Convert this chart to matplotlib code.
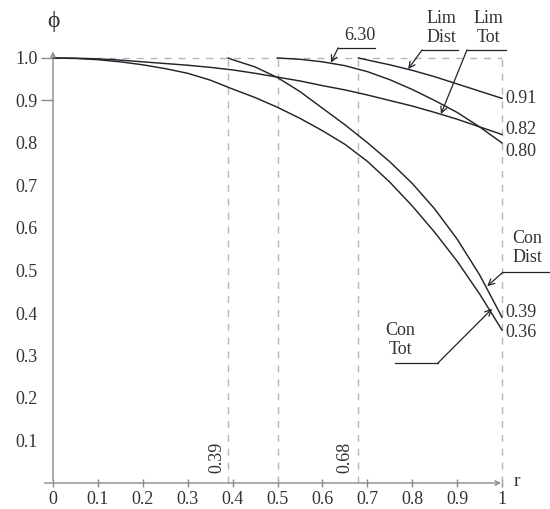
import matplotlib
matplotlib.use("Agg")
import matplotlib.pyplot as plt

# curves (r, phi)
con_tot_r = [0, 0.05, 0.1, 0.15, 0.2, 0.25, 0.3, 0.35, 0.4, 0.45, 0.5, 0.55, 0.6, 0.65, 0.7,
             0.75, 0.8, 0.85, 0.9, 0.95, 1.0]
con_tot_phi = [1.0, 0.999, 0.996, 0.991, 0.984, 0.975, 0.964, 0.948, 0.927, 0.907, 0.884, 0.858,
               0.829, 0.797, 0.757, 0.708, 0.652, 0.590, 0.522, 0.445, 0.36]

con_dist_r = [0.39, 0.4, 0.45, 0.5, 0.55, 0.6, 0.65, 0.7, 0.75, 0.8, 0.85, 0.9, 0.95, 1.0]
con_dist_phi = [1.0, 0.996, 0.979, 0.954, 0.921, 0.882, 0.843, 0.801, 0.756, 0.705, 0.645,
                0.574, 0.490, 0.39]

lim_tot_r = [0, 0.05, 0.1, 0.15, 0.2, 0.25, 0.3, 0.35, 0.4, 0.45, 0.5, 0.55, 0.6, 0.65, 0.7,
             0.75, 0.8, 0.85, 0.9, 0.95, 1.0]
lim_tot_phi = [1.0, 0.9995, 0.998, 0.995, 0.991, 0.987, 0.983, 0.978, 0.972, 0.964, 0.955, 0.946,
               0.935, 0.925, 0.913, 0.900, 0.887, 0.872, 0.856, 0.838, 0.82]

c630_r = [0.5, 0.55, 0.6, 0.65, 0.7, 0.75, 0.8, 0.85, 0.9, 0.95, 1.0]
c630_phi = [1.0, 0.997, 0.991, 0.982, 0.968, 0.949, 0.926, 0.900, 0.872, 0.838, 0.80]

lim_dist_r = [0.68, 0.75, 0.8, 0.85, 0.9, 0.95, 1.0]
lim_dist_phi = [1.0, 0.984, 0.971, 0.956, 0.939, 0.922, 0.905]

guides = [0.39, 0.5, 0.68, 1.0]
xticks = [0, 0.1, 0.2, 0.3, 0.4, 0.5, 0.6, 0.7, 0.8, 0.9, 1.0]
xtick_labels = ["0", "0.1", "0.2", "0.3", "0.4", "0.5", "0.6", "0.7", "0.8", "0.9", "1"]
yticks = [0.1, 0.2, 0.3, 0.4, 0.5, 0.6, 0.7, 0.8, 0.9, 1.0]
ytick_labels = ["0.1", "0.2", "0.3", "0.4", "0.5", "0.6", "0.7", "0.8", "0.9", "1.0"]

plt.rcParams['font.family'] = ['Liberation Serif', 'DejaVu Serif']
txt = '#333333'
axc = '#8a8a8a'
dash = '#b5b5b5'
ink = '#22252b'

fig = plt.figure(figsize=(5.5, 5.09), dpi=100)
ax = fig.add_axes([53 / 550, 26 / 509, 449 / 550, 425 / 509])
ax.set_xlim(0, 1)
ax.set_ylim(0, 1)
for s in ax.spines.values():
    s.set_visible(False)

# dashed guides
for g in guides:
    ax.plot([g, g], [0, 1.015 if g == 0.39 else 1.0], color=dash, lw=1, ls=(0, (5, 5)), clip_on=False)
ax.plot([0, 1], [1, 1], color=dash, lw=1, ls=(0, (5, 5)), clip_on=False)

# axes with arrows
ax.annotate('', xy=(1.004, 0), xytext=(-0.025, 0), xycoords='data',
            arrowprops=dict(arrowstyle='->', color=axc, lw=1, mutation_scale=8), annotation_clip=False)
ax.annotate('', xy=(0, 1.022), xytext=(0, 0), xycoords='data',
            arrowprops=dict(arrowstyle='->', color=axc, lw=1, mutation_scale=8), annotation_clip=False)

ax.set_xticks(xticks)
ax.set_xticklabels(xtick_labels)
ax.set_yticks(yticks)
ax.set_yticklabels(ytick_labels)
ax.tick_params(axis='x', direction='inout', length=6, width=1, color=axc, labelsize=13, labelcolor=txt, pad=3)
ax.tick_params(axis='y', length=0, labelsize=13, labelcolor=txt, pad=11)
for t in ax.yaxis.get_major_ticks()[-2:]:
    t.tick1line.set_markersize(8.5)
    t.tick1line.set_markeredgewidth(1)
    t.tick1line.set_markeredgecolor(axc)

# curves
for r, p in [(con_tot_r, con_tot_phi), (con_dist_r, con_dist_phi), (lim_tot_r, lim_tot_phi),
             (c630_r, c630_phi), (lim_dist_r, lim_dist_phi)]:
    ax.plot(r, p, color=ink, lw=1.05, clip_on=False, solid_joinstyle='round')

# end values
ax.text(1.007, lim_dist_phi[-1] - 0.001, "0.91", fontsize=13, color=txt, va='center', ha='left')
ax.text(1.007, lim_tot_phi[-1] + 0.011, "0.82", fontsize=13, color=txt, va='center', ha='left')
ax.text(1.007, c630_phi[-1] - 0.021, "0.80", fontsize=13, color=txt, va='center', ha='left')
ax.text(1.007, con_dist_phi[-1] + 0.012, "0.39", fontsize=13, color=txt, va='center', ha='left')
ax.text(1.007, con_tot_phi[-1] - 0.005, "0.36", fontsize=13, color=txt, va='center', ha='left')

ax.text(0.365, 0.06, "0.39", fontsize=13, color=txt, rotation=90, ha='center', va='center')
ax.text(0.650, 0.06, "0.68", fontsize=13, color=txt, rotation=90, ha='center', va='center')

ax.text(0.0, 1.085, "ϕ", fontsize=17, color=txt, ha='center', va='center', clip_on=False)
ax.text(1.025, 0.003, "r", fontsize=14, color=txt, ha='left', va='center')


def leader(label, tx, ty, x0, x1, by, cx, tip):
    ax.text(tx, ty, label, fontsize=13, color=txt, ha='center', va='center', linespacing=1.15)
    ax.plot([x0, x1], [by, by], color=ink, lw=0.9, clip_on=False)
    ax.annotate('', xy=tip, xytext=(cx, by),
                arrowprops=dict(arrowstyle='->', color=ink, lw=0.9, mutation_scale=11,
                                shrinkA=0, shrinkB=0), annotation_clip=False)


leader("6.30", 0.684, 1.052, 0.635, 0.717, 1.024, 0.635, (0.619, 0.989))
leader("Lim\nDist", 0.866, 1.071, 0.822, 0.902, 1.019, 0.822, (0.791, 0.974))
leader("Lim\nTot", 0.969, 1.071, 0.922, 1.009, 1.019, 0.922, (0.864, 0.868))
leader("Con\nDist", 1.056, 0.552, 1.002, 1.107, 0.496, 1.002, (0.967, 0.463))
leader("Con\nTot", 0.773, 0.336, 0.762, 0.857, 0.282, 0.857, (0.978, 0.410))

fig.savefig("out.png", dpi=100)
